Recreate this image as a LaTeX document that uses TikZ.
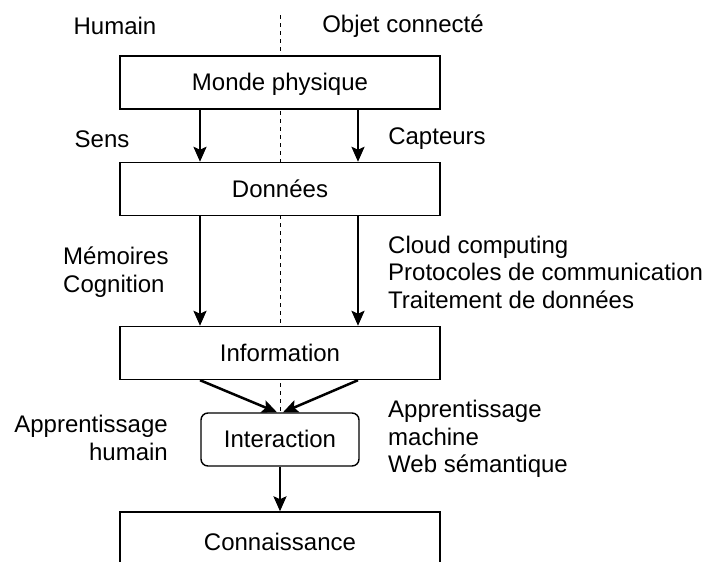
\documentclass[tikz,border=0pt]{standalone}
\usepackage{fontspec}
\setmainfont{Liberation Sans}
\usetikzlibrary{arrows.meta}
\begin{document}
\begin{tikzpicture}[x=1pt,y=-1pt,
  every node/.style={font=\fontsize{24}{27.5}\selectfont},
  box/.style={draw,line width=1.4pt,fill=white,minimum width=320pt,minimum height=53pt,inner sep=0pt,text depth=1pt},
  rbox/.style={draw,line width=1.4pt,fill=white,rounded corners=7pt,minimum width=158pt,minimum height=53pt,inner sep=0pt,text depth=1pt},
  lbl/.style={inner sep=0pt},
  arr/.style={line width=2.5pt,-{Stealth[length=15pt,width=13pt,inset=3pt]}},
  sep/.style={line width=0.8pt,dash pattern=on 4pt off 4pt}
]
\useasboundingbox (0,0) rectangle (707,562);
\clip (0,0) rectangle (707,562);
\fill[white] (0,0) rectangle (707,562);
\coordinate (dtop) at (280,15);
\coordinate (dbot) at (280,413);
\draw[sep] (dtop) -- (dbot);
\node[box] (mp) at (280,82.5) {Monde physique};
\node[box] (don) at (280,189) {Données};
\node[box] (info) at (280,353) {Information};
\node[rbox] (inter) at (280,439.5) {Interaction};
\node[box,minimum height=60pt] (con) at (280,542) {Connaissance};
\node[lbl] (hum) at (115,26) {Humain};
\node[lbl] (obj) at (403,26) {Objet connecté};
\node[lbl] (sens) at (102,139) {Sens};
\node[lbl] (capt) at (437,139) {Capteurs};
\node[lbl,anchor=west,align=left] (mem) at (63,272) {Mémoires\\Cognition};
\node[lbl,anchor=west,align=left] (cloud) at (388,272) {Cloud computing\\Protocoles de communication\\Traitement de données};
\node[lbl,anchor=east,align=right] (apph) at (168,438) {Apprentissage\\humain};
\node[lbl,anchor=west,align=left] (appm) at (388,439) {Apprentissage\\machine\\Web sémantique};
\draw[arr] ([xshift=-80pt]mp.south) -- ([xshift=-80pt]don.north);
\draw[arr] ([xshift=78pt]mp.south) -- ([xshift=78pt]don.north);
\draw[arr] ([xshift=-80pt]don.south) -- ([xshift=-80pt]info.north);
\draw[arr] ([xshift=78pt]don.south) -- ([xshift=78pt]info.north);
\draw[arr] ([xshift=-80pt]info.south) -- ([xshift=-3pt]inter.north);
\draw[arr] ([xshift=78pt]info.south) -- ([xshift=3pt]inter.north);
\draw[arr] (inter.south) -- (con.north);
\end{tikzpicture}
\end{document}
